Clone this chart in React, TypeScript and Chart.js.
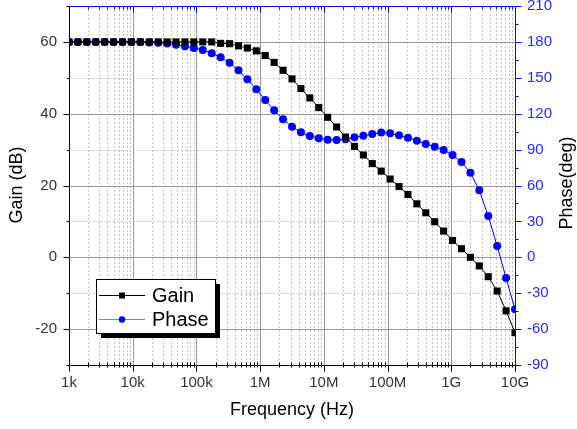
import React, { useEffect, useRef } from 'react';
import { Chart, registerables } from 'chart.js';

Chart.register(...registerables);

// Frequency samples (Hz), log-spaced
const frequencies = [
  1000, 1380, 1905, 2630, 3631, 5012, 6918, 9550, 13183, 18197,
  25119, 34674, 47863, 66069, 91201, 125893, 173780, 239883, 331131, 457088,
  630957, 870964, 1.2023e6, 1.6596e6, 2.2909e6, 3.1623e6, 4.3652e6, 6.0256e6, 8.3176e6, 1.1482e7,
  1.5849e7, 2.1878e7, 3.02e7, 4.1687e7, 5.7544e7, 7.9433e7, 1.0965e8, 1.5136e8, 2.0893e8, 2.884e8,
  3.9811e8, 5.4954e8, 7.5858e8, 1.0471e9, 1.4454e9, 1.9953e9, 2.7542e9, 3.8019e9, 5.2481e9, 7.2444e9,
  1e10,
];

const gainDb = [
  60, 60, 60, 60, 60, 60, 60, 60, 60, 60,
  60, 60, 60, 60, 60, 60, 60, 59.6, 59.5, 58.9,
  58.3, 57.5, 56.2, 54.3, 52.1, 49.7, 47.0, 44.4, 41.7, 39.0,
  36.3, 33.5, 30.9, 28.5, 26.1, 24.0, 21.8, 19.7, 17.5, 14.9,
  12.4, 9.9, 7.3, 4.7, 2.4, 0.0, -2.4, -5.4, -9.4, -14.9,
  -21.0,
];

const phaseDeg = [
  180, 180, 180, 180, 180, 180, 180, 180, 180, 179.6,
  179.2, 178.6, 177.7, 176.3, 174.9, 173.2, 170.5, 167.1, 162.6, 156.3,
  148.7, 140.4, 131.4, 122.8, 115.3, 109.1, 104.4, 101.4, 99.4, 98.2,
  98.0, 98.6, 100.3, 101.6, 103.0, 104.2, 103.6, 101.9, 100.0, 97.4,
  94.7, 92.4, 89.7, 85.5, 79.6, 70.7, 56.0, 34.5, 9.4, -17.3,
  -43.5,
];

const xTickValues = [1e3, 1e4, 1e5, 1e6, 1e7, 1e8, 1e9, 1e10];
const xTickLabels = ['1k', '10k', '100k', '1M', '10M', '100M', '1G', '10G'];
const gainTicks = [-20, 0, 20, 40, 60];
const phaseTicks = [-90, -60, -30, 0, 30, 60, 90, 120, 150, 180, 210];

const FONT = "'Liberation Sans', Arial, sans-serif";
const BLUE = '#0000ff';
const BLUE_TEXT = '#2a2aff';

const decorPlugin = {
  id: 'decor',
  beforeDatasetsDraw(chart: any) {
    const { ctx, chartArea: a, scales } = chart;
    const xs = scales.x;
    const ys = scales.y;
    ctx.save();
    ctx.lineWidth = 1;
    // vertical grid
    for (let d = 3; d < 10; d++) {
      for (let m = 1; m < 10; m++) {
        const v = m * Math.pow(10, d);
        const px = Math.round(xs.getPixelForValue(v)) + 0.5;
        if (px <= a.left + 1 || px >= a.right - 1) continue;
        ctx.beginPath();
        if (m === 1) {
          ctx.setLineDash([]);
          ctx.strokeStyle = '#9a9a9a';
        } else {
          ctx.setLineDash([2, 2]);
          ctx.strokeStyle = '#c4c4c4';
        }
        ctx.moveTo(px, a.top);
        ctx.lineTo(px, a.bottom);
        ctx.stroke();
      }
    }
    // horizontal grid
    for (let v = -20; v <= 60; v += 10) {
      const py = Math.round(ys.getPixelForValue(v)) + 0.5;
      ctx.beginPath();
      if (v % 20 === 0) {
        ctx.setLineDash([]);
        ctx.strokeStyle = '#9a9a9a';
      } else {
        ctx.setLineDash([2, 2]);
        ctx.strokeStyle = '#c4c4c4';
      }
      ctx.moveTo(a.left, py);
      ctx.lineTo(a.right, py);
      ctx.stroke();
    }
    ctx.restore();
  },
  afterDatasetsDraw(chart: any) {
    const { ctx, chartArea: a, scales } = chart;
    const xs = scales.x;
    const ys = scales.y;
    const y1 = scales.y1;
    ctx.save();
    ctx.lineWidth = 1;
    ctx.setLineDash([]);
    const L = Math.round(a.left) + 0.5;
    const R = Math.round(a.right) + 0.5;
    const T = Math.round(a.top) + 0.5;
    const B = Math.round(a.bottom) + 0.5;

    // top (blue) with inward log ticks
    ctx.strokeStyle = BLUE;
    ctx.beginPath();
    ctx.moveTo(L, T);
    ctx.lineTo(R, T);
    for (let d = 3; d <= 10; d++) {
      for (let m = 1; m < 10; m++) {
        const v = m * Math.pow(10, d);
        if (v > 1e10) break;
        const px = Math.round(xs.getPixelForValue(v)) + 0.5;
        const len = m === 1 ? 6 : 3;
        ctx.moveTo(px, T);
        ctx.lineTo(px, T + len);
      }
    }
    ctx.stroke();

    // right axis (blue)
    ctx.beginPath();
    ctx.moveTo(R, T);
    ctx.lineTo(R, B);
    for (let v = -90; v <= 210; v += 15) {
      const py = Math.round(y1.getPixelForValue(v)) + 0.5;
      const len = v % 30 === 0 ? 6 : 3;
      ctx.moveTo(R, py);
      ctx.lineTo(R + len, py);
    }
    ctx.stroke();

    // left axis (black)
    ctx.strokeStyle = '#000';
    ctx.beginPath();
    ctx.moveTo(L, T - 0.5);
    ctx.lineTo(L, B);
    for (let v = -30; v <= 70; v += 10) {
      const py = Math.round(ys.getPixelForValue(v)) + 0.5;
      const len = v % 20 === 0 ? 6 : 3;
      ctx.moveTo(L, py);
      ctx.lineTo(L - len, py);
    }
    ctx.stroke();

    // bottom axis (black)
    ctx.beginPath();
    ctx.moveTo(L, B);
    ctx.lineTo(R, B);
    for (let d = 3; d <= 10; d++) {
      for (let m = 1; m < 10; m++) {
        const v = m * Math.pow(10, d);
        if (v > 1e10) break;
        const px = Math.round(xs.getPixelForValue(v)) + 0.5;
        if (m === 1) {
          ctx.moveTo(px, B);
          ctx.lineTo(px, B + 6);
        } else {
          ctx.moveTo(px, B - 3);
          ctx.lineTo(px, B + 2);
        }
      }
    }
    ctx.stroke();
    ctx.restore();
  },
  afterDraw(chart: any) {
    const { ctx } = chart;
    ctx.save();
    // axis titles
    ctx.fillStyle = '#000';
    ctx.font = `18px ${FONT}`;
    ctx.textAlign = 'center';
    ctx.textBaseline = 'middle';
    ctx.fillText('Frequency (Hz)', 292, 410);
    ctx.save();
    ctx.translate(17, 185);
    ctx.rotate(-Math.PI / 2);
    ctx.fillText('Gain (dB)', 0, 0);
    ctx.restore();
    ctx.save();
    ctx.translate(567, 183);
    ctx.rotate(-Math.PI / 2);
    ctx.fillText('Phase(deg)', 0, 0);
    ctx.restore();

    // legend box with shadow
    const bx = 96, by = 279, bw = 119, bh = 54;
    ctx.fillStyle = '#000';
    ctx.fillRect(bx + 5, by + 5, bw, bh);
    ctx.fillStyle = '#fff';
    ctx.fillRect(bx, by, bw, bh);
    ctx.strokeStyle = '#000';
    ctx.lineWidth = 1;
    ctx.strokeRect(bx + 0.5, by + 0.5, bw, bh);

    const ds = chart.data.datasets;
    const rows = [
      { label: ds[0].label, y: 295, line: '#000', fill: '#000', style: 'rect' },
      { label: ds[1].label, y: 319, line: '#7a7aff', fill: BLUE, style: 'circle' },
    ];
    ctx.font = `20px ${FONT}`;
    ctx.textAlign = 'left';
    for (const r of rows) {
      ctx.strokeStyle = r.line;
      ctx.beginPath();
      ctx.moveTo(99, r.y + 0.5);
      ctx.lineTo(145, r.y + 0.5);
      ctx.stroke();
      ctx.fillStyle = r.fill;
      if (r.style === 'rect') {
        ctx.fillRect(119, r.y - 2.5, 6, 6);
      } else {
        ctx.beginPath();
        ctx.arc(122, r.y + 0.5, 3.2, 0, Math.PI * 2);
        ctx.fill();
      }
      ctx.fillStyle = '#000';
      ctx.fillText(r.label, 152, r.y + 1);
    }
    ctx.restore();
  },
};

export default function App() {
  const canvasRef = useRef<HTMLCanvasElement | null>(null);

  useEffect(() => {
    const canvas = canvasRef.current;
    if (!canvas) return;
    const chart = new Chart(canvas, {
      type: 'line',
      data: {
        datasets: [
          {
            label: 'Gain',
            data: frequencies.map((f, i) => ({ x: f, y: gainDb[i] })),
            yAxisID: 'y',
            borderColor: '#000',
            backgroundColor: '#000',
            borderWidth: 1,
            pointStyle: 'rect',
            pointRadius: 5,
            pointBorderWidth: 0,
            pointBackgroundColor: '#000',
            tension: 0,
            order: 1,
          },
          {
            label: 'Phase',
            data: frequencies.map((f, i) => ({ x: f, y: phaseDeg[i] })),
            yAxisID: 'y1',
            borderColor: BLUE,
            backgroundColor: BLUE,
            borderWidth: 1,
            pointStyle: 'circle',
            pointRadius: 4,
            pointBorderWidth: 0,
            pointBackgroundColor: BLUE,
            tension: 0,
            order: 2,
          },
        ],
      },
      options: {
        responsive: false,
        animation: false,
        events: [],
        layout: { padding: { top: 6, left: 0, right: 0, bottom: 0 } },
        plugins: {
          legend: { display: false },
          tooltip: { enabled: false },
          title: { display: false },
        },
        scales: {
          x: {
            type: 'logarithmic',
            position: 'bottom',
            min: 1e3,
            max: 1e10,
            afterBuildTicks: (s: any) => {
              s.ticks = xTickValues.map((v) => ({ value: v }));
            },
            afterFit: (s: any) => {
              s.height = 64;
              s.paddingLeft = 0;
              s.paddingRight = 0;
            },
            ticks: {
              autoSkip: false,
              maxRotation: 0,
              minRotation: 0,
              padding: 9,
              color: '#333',
              font: { family: FONT, size: 15 },
              callback: (_v: any, i: number) => xTickLabels[i],
            },
            grid: { display: false, drawTicks: false },
            border: { display: false },
          },
          y: {
            type: 'linear',
            position: 'left',
            min: -30,
            max: 70,
            afterBuildTicks: (s: any) => {
              s.ticks = gainTicks.map((v) => ({ value: v }));
            },
            afterFit: (s: any) => {
              s.width = 69;
              s.paddingTop = 0;
              s.paddingBottom = 0;
            },
            ticks: {
              padding: 12,
              color: '#333',
              font: { family: FONT, size: 15 },
              callback: (v: any) => String(v),
            },
            grid: { display: false, drawTicks: false },
            border: { display: false },
          },
          y1: {
            type: 'linear',
            position: 'right',
            min: -90,
            max: 210,
            afterBuildTicks: (s: any) => {
              s.ticks = phaseTicks.map((v) => ({ value: v }));
            },
            afterFit: (s: any) => {
              s.width = 62;
              s.paddingTop = 0;
              s.paddingBottom = 0;
            },
            ticks: {
              padding: 12,
              color: BLUE_TEXT,
              font: { family: FONT, size: 15 },
              callback: (v: any) => String(v),
            },
            grid: { display: false, drawTicks: false },
            border: { display: false },
          },
        },
      },
      plugins: [decorPlugin],
    } as any);
    return () => chart.destroy();
  }, []);

  return (
    <div style={{ position: 'fixed', left: 0, top: 0, width: 577, height: 429, background: '#fff' }}>
      <canvas ref={canvasRef} width={577} height={429} style={{ display: 'block', width: 577, height: 429 }} />
    </div>
  );
}
